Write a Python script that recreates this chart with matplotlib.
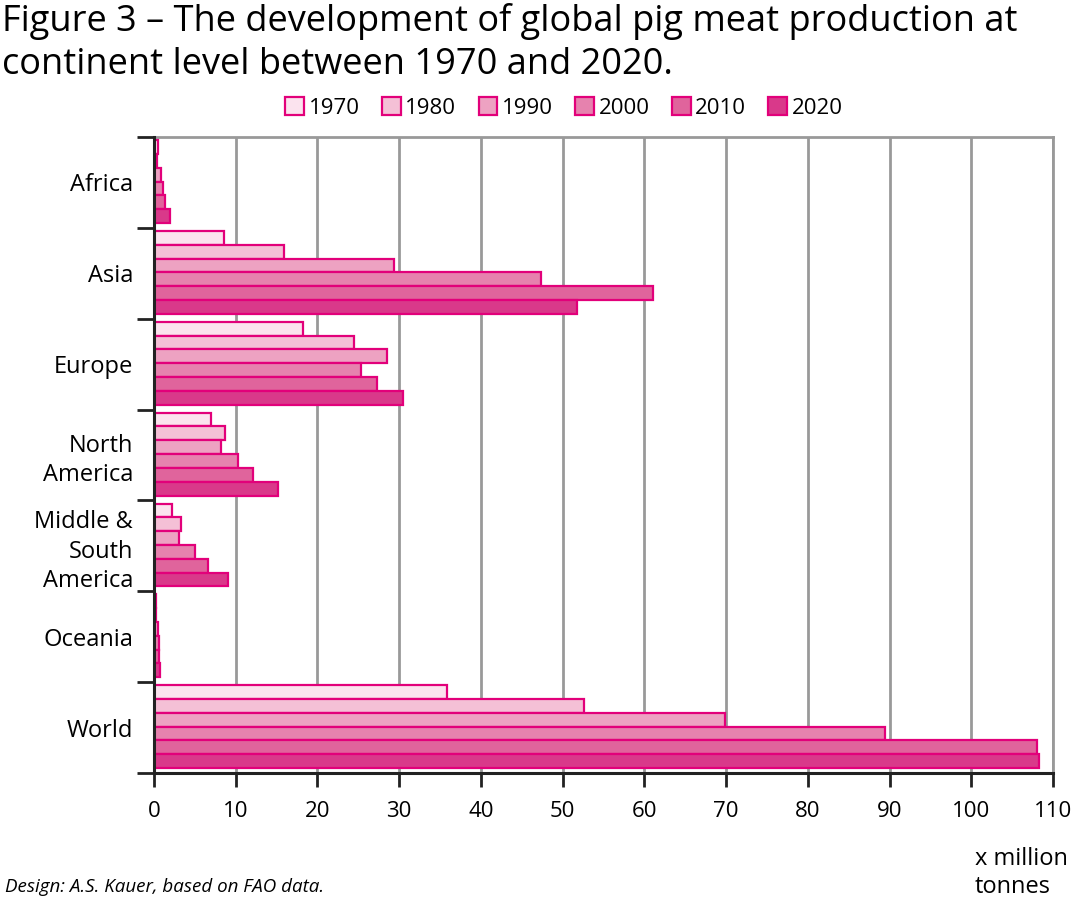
import matplotlib
matplotlib.use("Agg")
import matplotlib.pyplot as plt
from matplotlib.patches import Rectangle
import numpy as np

plt.rcParams['font.family'] = ['Open Sans', 'DejaVu Sans']

regions = ["Africa", "Asia", "Europe", "North\nAmerica", "Middle &\nSouth\nAmerica", "Oceania", "World"]
years = ["1970", "1980", "1990", "2000", "2010", "2020"]

v1970 = [0.5, 8.6, 18.2, 7.0, 2.2, 0.2, 35.9]
v1980 = [0.4, 15.9, 24.5, 8.7, 3.3, 0.3, 52.6]
v1990 = [0.9, 29.4, 28.5, 8.2, 3.1, 0.5, 69.9]
v2000 = [1.1, 47.4, 25.3, 10.3, 5.0, 0.6, 89.4]
v2010 = [1.4, 61.1, 27.3, 12.1, 6.6, 0.6, 108.1]
v2020 = [2.0, 51.7, 30.5, 15.2, 9.0, 0.7, 108.3]
series = [v1970, v1980, v1990, v2000, v2010, v2020]

fills = ["#fbe3ee", "#f4c0d6", "#eda2c2", "#e682ae", "#e0649c", "#d9398a"]
edge = "#e2007a"

fig = plt.figure(figsize=(10.8, 9.05), dpi=100)
ax = fig.add_axes([154/1080, 1-773/905, (1053-154)/1080, (773-137)/905])

n = len(regions)
y = np.arange(n)
h = 0.152
for i, vals in enumerate(series):
    ax.barh(y + (i - 2.5) * h - 0.01, vals, height=h, color=fills[i],
            edgecolor=edge, linewidth=1.6, zorder=3)

ax.set_xlim(0, 110)
ax.set_ylim(n - 0.5, -0.5)
ax.set_xticks(np.arange(0, 111, 10))
ax.set_xticklabels([str(t) for t in range(0, 111, 10)], fontsize=16)
ax.xaxis.grid(True, color="#999999", linewidth=2, zorder=0)
ax.tick_params(axis='x', direction='out', length=10, width=2, color='#222222', pad=10)

ax.set_yticks(np.arange(-0.5, n, 1.0))
ax.set_yticklabels([])
ax.set_yticks(y, minor=True)
ax.set_yticklabels(regions, minor=True, fontsize=17, ha='right', linespacing=1.3)
ax.tick_params(axis='y', which='major', direction='out', length=12, width=2, color='#222222')
ax.tick_params(axis='y', which='minor', length=0, pad=15)

for s in ['left', 'bottom']:
    ax.spines[s].set_color('#222222')
    ax.spines[s].set_linewidth(2.2)
    ax.spines[s].set_zorder(5)
for s in ['top', 'right']:
    ax.spines[s].set_color('#999999')
    ax.spines[s].set_linewidth(2)

handles = [Rectangle((0, 0), 1, 1, facecolor=fills[i], edgecolor=edge, linewidth=1.6) for i in range(6)]
fig.legend(handles, years, loc='center', bbox_to_anchor=(564/1080, 1-108/905), ncol=6,
           frameon=False, fontsize=16, handlelength=0.85, handleheight=0.85,
           handletextpad=0.2, columnspacing=1.0)

fig.text(0.002, 1-3/905, "Figure 3 \u2013 The development of global pig meat production at\ncontinent level between 1970 and 2020.",
         fontsize=26, va='top', ha='left', linespacing=1.25)
fig.text(975/1080, 1-873/905, "x million\ntonnes", fontsize=17, va='center', ha='left', linespacing=1.2)
fig.text(5/1080, 1-887/905, "Design: A.S. Kauer, based on FAO data.", fontsize=13.5, style='italic',
         va='center', ha='left')

fig.savefig("out.png", dpi=100)
